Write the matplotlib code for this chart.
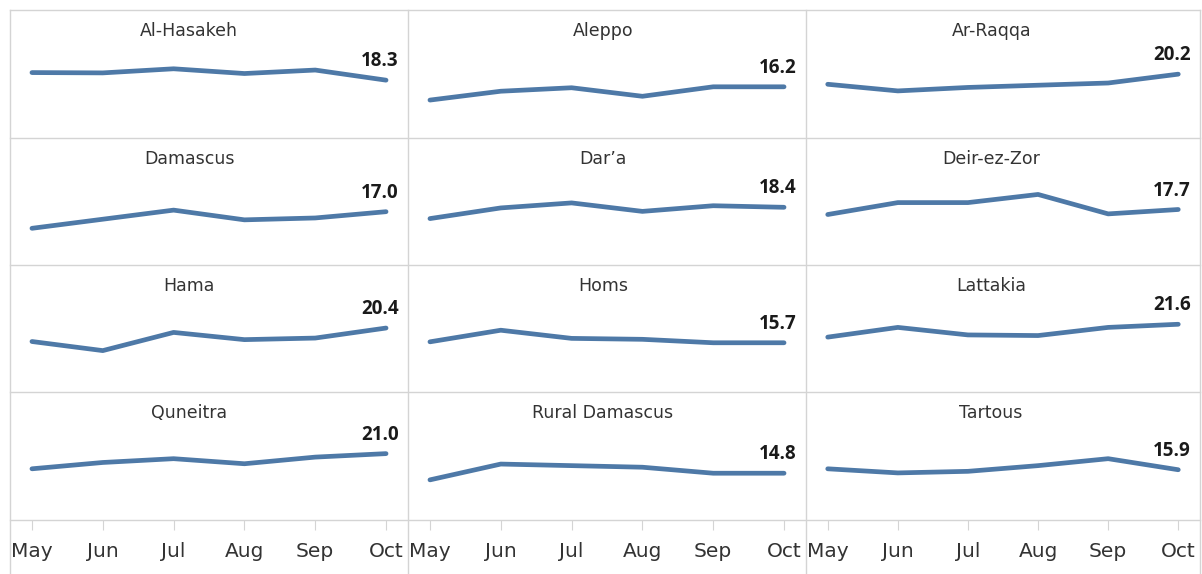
import matplotlib.pyplot as plt
from matplotlib.lines import Line2D

plt.rcParams['font.family'] = ['DejaVu Sans']

# data
months = ["May", "Jun", "Jul", "Aug", "Sep", "Oct"]
regions = ["Al-Hasakeh", "Aleppo", "Ar-Raqqa",
           "Damascus", "Dar\u2019a", "Deir-ez-Zor",
           "Hama", "Homs", "Lattakia",
           "Quneitra", "Rural Damascus", "Tartous"]

al_hasakeh = [20.7, 20.6, 21.9, 20.4, 21.5, 18.3]
aleppo = [12.0, 14.8, 15.9, 13.2, 16.2, 16.2]
ar_raqqa = [17.0, 14.9, 16.0, 16.7, 17.4, 20.2]
damascus = [11.7, 14.6, 17.5, 14.4, 15.0, 17.0]
dara = [14.8, 18.2, 19.8, 17.1, 18.9, 18.4]
deir_ez_zor = [16.1, 19.9, 19.9, 22.5, 16.3, 17.7]
hama = [16.1, 13.2, 19.0, 16.7, 17.2, 20.4]
homs = [16.0, 19.7, 17.1, 16.8, 15.7, 15.7]
lattakia = [17.5, 20.6, 18.2, 18.0, 20.6, 21.6]
quneitra = [16.2, 18.2, 19.4, 17.8, 19.9, 21.0]
rural_damascus = [12.7, 17.7, 17.2, 16.7, 14.8, 14.8]
tartous = [16.2, 14.9, 15.4, 17.2, 19.4, 15.9]

series = [al_hasakeh, aleppo, ar_raqqa, damascus, dara, deir_ez_zor,
          hama, homs, lattakia, quneitra, rural_damascus, tartous]

W, H = 1202, 574
fig = plt.figure(figsize=(W / 100, H / 100), dpi=100)

xs = [10, 408, 806, 1200]
ys = [10, 138, 265, 392, 520]
title_x = [0.45, 0.49, 0.47]

line_color = "#4e79a7"
grid_color = "#d4d4d4"

for i, (name, vals) in enumerate(zip(regions, series)):
    r, c = divmod(i, 3)
    ax = fig.add_axes([xs[c] / W, (H - ys[r + 1]) / H,
                       (xs[c + 1] - xs[c]) / W, (ys[r + 1] - ys[r]) / H])
    ax.plot(range(len(months)), vals, color=line_color, lw=3.4,
            solid_capstyle="round", solid_joinstyle="round")
    ax.set_xlim(-0.31, 5.31)
    ax.set_ylim(0, 40.5)
    for s in ax.spines.values():
        s.set_visible(False)
    ax.set_yticks([])
    ax.text(title_x[c], 0.835, name, transform=ax.transAxes, ha="center",
            va="center", fontsize=12.5, color="#333333")
    ax.annotate(f"{vals[-1]:.1f}", xy=(5, vals[-1]), xytext=(9, 10),
                textcoords="offset points", ha="right", va="baseline",
                fontsize=13.5, fontweight="bold", color="#1a1a1a",
                family="Open Sans")
    if r == 3:
        ax.set_xticks(range(len(months)))
        ax.set_xticklabels(months)
        ax.tick_params(axis="x", length=7, color=grid_color, pad=9,
                       labelsize=14.5, labelcolor="#333333")
    else:
        ax.set_xticks([])

# panel borders
for y in ys:
    fig.add_artist(Line2D([xs[0] / W, xs[-1] / W], [1 - y / H, 1 - y / H],
                          color=grid_color, lw=1))
for x in xs:
    fig.add_artist(Line2D([x / W, x / W], [1 - ys[0] / H, 0],
                          color=grid_color, lw=1))

fig.savefig("out.png", dpi=100, facecolor="white")
